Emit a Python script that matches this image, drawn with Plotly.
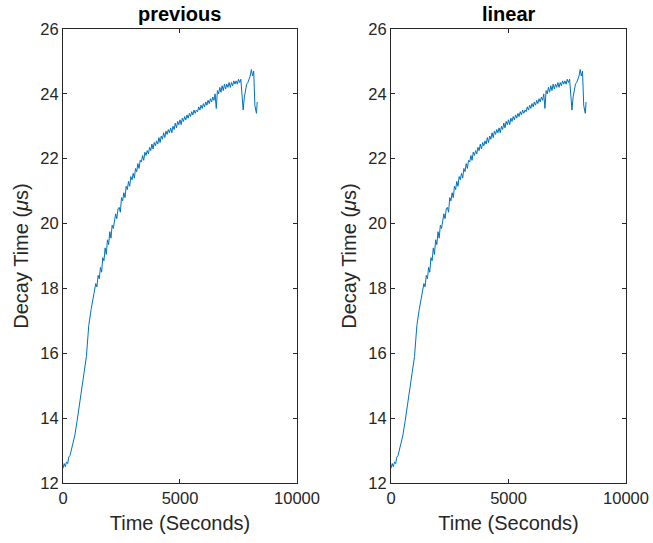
import plotly.graph_objects as go
from plotly.subplots import make_subplots

time_s = [0, 50, 100, 150, 200, 250, 300, 400, 500, 600, 700, 800, 900, 1000, 1050, 1100, 1200,
          1300, 1350, 1400, 1450, 1500, 1550, 1600, 1650, 1700, 1750, 1800, 1850, 1900, 1950,
          2000, 2050, 2100, 2150, 2200, 2250, 2300, 2350, 2400, 2450, 2500, 2550, 2600, 2650,
          2700, 2750, 2800, 2850, 2900, 2950, 3000, 3050, 3100, 3150, 3200, 3250, 3300, 3350,
          3400, 3450, 3500, 3550, 3600, 3650, 3700, 3750, 3800, 3850, 3900, 3950, 4000, 4050,
          4100, 4150, 4200, 4250, 4300, 4350, 4400, 4450, 4500, 4550, 4600, 4650, 4700, 4750,
          4800, 4850, 4900, 4950, 5000, 5050, 5100, 5150, 5200, 5250, 5300, 5350, 5400, 5450,
          5500, 5550, 5600, 5650, 5700, 5750, 5800, 5850, 5900, 5950, 6000, 6050, 6100, 6150,
          6200, 6250, 6300, 6350, 6400, 6450, 6500, 6550, 6600, 6650, 6700, 6750, 6800, 6850,
          6900, 6950, 7000, 7050, 7100, 7150, 7200, 7250, 7300, 7350, 7400, 7450, 7500, 7550,
          7600, 7650, 7700, 7750, 7800, 7850, 7900, 7950, 8000, 8050, 8100, 8150, 8200, 8250,
          8270, 8300]

decay_us = [12.45, 12.6, 12.5, 12.65, 12.6, 12.8, 12.85, 13.15, 13.45, 13.9, 14.45, 15.0, 15.4,
            15.9, 16.4, 16.85, 17.35,
            17.8, 17.95, 18.15, 18.05, 18.4, 18.3, 18.65, 18.5, 18.95, 18.85, 19.25, 19.05,
            19.5, 19.35, 19.75, 19.55, 19.95, 19.85, 20.1, 20.3, 20.15, 20.45, 20.5, 20.35,
            20.8, 20.7, 20.95, 20.8, 21.15, 21.05, 21.3, 21.15, 21.45, 21.35, 21.55, 21.4,
            21.7, 21.6, 21.85, 21.7, 21.95, 21.9, 22.1, 21.95, 22.2, 22.1, 22.25, 22.15, 22.35,
            22.25, 22.45, 22.3, 22.5, 22.4, 22.55, 22.45, 22.65, 22.5, 22.7, 22.6, 22.8, 22.65,
            22.85, 22.75, 22.9, 22.8, 22.95, 22.8, 23.0, 22.9, 23.1, 22.95, 23.15, 23.05, 23.2,
            23.05, 23.25, 23.15, 23.3, 23.2, 23.35, 23.25, 23.4, 23.3, 23.45, 23.35, 23.5, 23.4,
            23.5, 23.45, 23.6, 23.5, 23.65, 23.55, 23.7, 23.6, 23.75, 23.65, 23.8, 23.7, 23.85,
            23.75, 23.9, 23.8, 24.0, 23.55, 24.1, 24.0, 24.2, 24.05, 24.25, 24.1, 24.3, 24.15,
            24.3, 24.2, 24.35, 24.2, 24.35, 24.25, 24.4, 24.3, 24.4, 24.3, 24.45, 24.35, 24.45,
            24.0, 23.5, 23.9, 24.15, 24.3, 24.35, 24.45, 24.55, 24.75, 24.55, 24.7, 23.65,
            23.45, 23.4, 23.75]

titles = ["previous", "linear"]
x_ticks = [0, 5000, 10000]
y_ticks = [12, 14, 16, 18, 20, 22, 24, 26]

FONT = "Liberation Sans, Arial, Helvetica, sans-serif"
AX = "#262626"

fig = make_subplots(rows=1, cols=2, horizontal_spacing=0.167)
for i in range(2):
    fig.add_trace(go.Scatter(x=time_s, y=decay_us, mode="lines",
                             line=dict(color="#0072BD", width=1), showlegend=False),
                  row=1, col=i + 1)

for i in range(2):
    fig.update_xaxes(row=1, col=i + 1, range=[0, 10000], tickvals=x_ticks,
                     ticktext=[str(v) for v in x_ticks], automargin=False,
                     showgrid=False, zeroline=False, showline=True, linecolor=AX, linewidth=1,
                     mirror="ticks", ticks="inside", ticklen=4, tickcolor=AX,
                     tickfont=dict(family=FONT, size=16.5, color=AX),
                     title=dict(text="Time (Seconds)", font=dict(family=FONT, size=20, color=AX),
                                standoff=10))
    fig.update_yaxes(row=1, col=i + 1, range=[12, 26], tickvals=y_ticks,
                     ticktext=[str(v) for v in y_ticks], automargin=False,
                     showgrid=False, zeroline=False, showline=True, linecolor=AX, linewidth=1,
                     mirror="ticks", ticks="inside", ticklen=4, tickcolor=AX,
                     tickfont=dict(family=FONT, size=16.5, color=AX),
                     title=dict(text="Decay Time (<i>μ</i>s)",
                                font=dict(family=FONT, size=20, color=AX), standoff=6))

fig.update_layout(
    width=653, height=543,
    margin=dict(l=63, r=27, t=29, b=60),
    paper_bgcolor="white", plot_bgcolor="white",
    font=dict(family=FONT, color=AX),
)
fig.layout.xaxis.domain = [0, 0.4156]
fig.layout.xaxis2.domain = [0.5826, 1.0]

centers = [(0 + 0.4156) / 2, (0.5826 + 1.0) / 2]
for c, t in zip(centers, titles):
    fig.add_annotation(text="<b>" + t + "</b>", x=c, y=1.0, xref="paper", yref="paper",
                       xanchor="center", yanchor="bottom", yshift=2, showarrow=False,
                       font=dict(family=FONT, size=20, color="black"))

fig.write_html("out.html", config={"displayModeBar": False},
               post_script="document.body.style.margin='0px';")
